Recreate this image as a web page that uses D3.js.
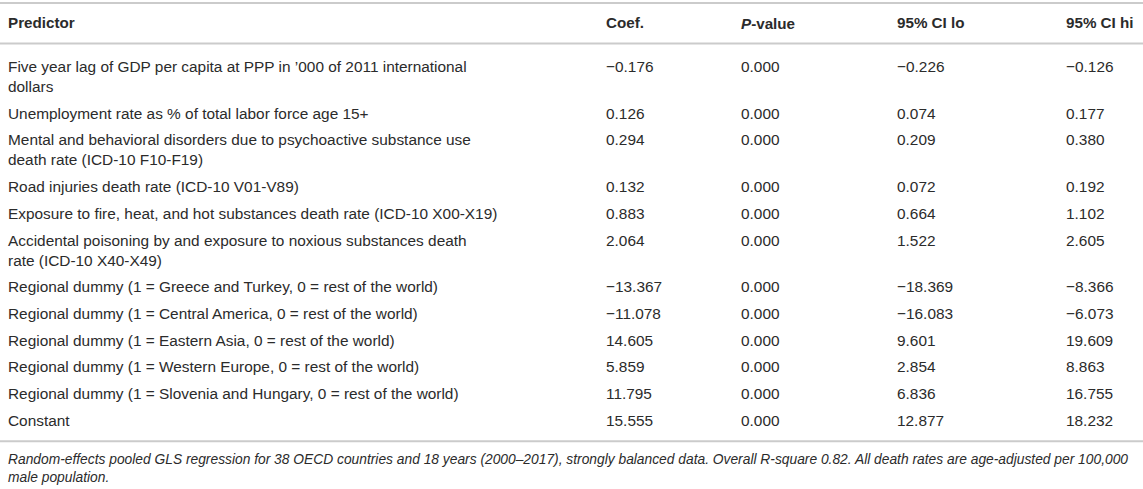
<!DOCTYPE html>
<html>
<head>
<meta charset="utf-8">
<script src="https://cdn.jsdelivr.net/npm/d3@7"></script>
<style>
  html, body { margin: 0; padding: 0; background: #fff; }
  svg { display: block; }
  text { font-family: "Liberation Sans", Arial, Helvetica, sans-serif; fill: #2b2b2b; }
</style>
</head>
<body>
<svg id="chart" width="1143" height="489"></svg>
<script>
// ---- data ----
const headers = ["Predictor", "Coef.", "P-value", "95% CI lo", "95% CI hi"];
const predictors = [
  ["Five year lag of GDP per capita at PPP in \u2019000 of 2011 international", "dollars"],
  ["Unemployment rate as % of total labor force age 15+"],
  ["Mental and behavioral disorders due to psychoactive substance use", "death rate (ICD-10 F10-F19)"],
  ["Road injuries death rate (ICD-10 V01-V89)"],
  ["Exposure to fire, heat, and hot substances death rate (ICD-10 X00-X19)"],
  ["Accidental poisoning by and exposure to noxious substances death", "rate (ICD-10 X40-X49)"],
  ["Regional dummy (1 = Greece and Turkey, 0 = rest of the world)"],
  ["Regional dummy (1 = Central America, 0 = rest of the world)"],
  ["Regional dummy (1 = Eastern Asia, 0 = rest of the world)"],
  ["Regional dummy (1 = Western Europe, 0 = rest of the world)"],
  ["Regional dummy (1 = Slovenia and Hungary, 0 = rest of the world)"],
  ["Constant"]
];
const coef   = [-0.176, 0.126, 0.294, 0.132, 0.883, 2.064, -13.367, -11.078, 14.605, 5.859, 11.795, 15.555];
const pValue = [0.000, 0.000, 0.000, 0.000, 0.000, 0.000, 0.000, 0.000, 0.000, 0.000, 0.000, 0.000];
const ciLo   = [-0.226, 0.074, 0.209, 0.072, 0.664, 1.522, -18.369, -16.083, 9.601, 2.854, 6.836, 12.877];
const ciHi   = [-0.126, 0.177, 0.380, 0.192, 1.102, 2.605, -8.366, -6.073, 19.609, 8.863, 16.755, 18.232];
const footnote = [
  "Random-effects pooled GLS regression for 38 OECD countries and 18 years (2000\u20132017), strongly balanced data. Overall R-square 0.82. All death rates are age-adjusted per 100,000",
  "male population."
];

// ---- layout ----
const W = 1143;
const colX = [8, 606, 741, 897, 1066];
const fontSize = 15.4;
const headFontSize = 15.2;
const footFontSize = 13.8;
const lineH = 20;
const rowStep = 26.7;
const topLineY = 3, headerY = 22.5, headerLineY = 43.5;
const firstRowY = 66.5;
const lineColor = "#cbcbcb";

const fmt = v => {
  const s = d3.format(".3f")(Math.abs(v));
  return (v < 0 ? "\u2212" : "") + s;
};

const svg = d3.select("#chart");

// compute row y positions
const rowYs = [];
let y = firstRowY;
predictors.forEach((p, i) => {
  rowYs.push(y);
  y += rowStep + (p.length - 1) * lineH;
});
const lastRowY = rowYs[rowYs.length - 1];
const bottomLineY = lastRowY + 21;

// rules
[topLineY, headerLineY, bottomLineY].forEach(ly => {
  svg.append("line")
    .attr("x1", 0).attr("x2", W)
    .attr("y1", ly).attr("y2", ly)
    .attr("stroke", lineColor).attr("stroke-width", 2);
});

// header
const hdr = svg.append("g").attr("font-weight", "bold").attr("font-size", headFontSize);
headers.forEach((h, i) => {
  const t = hdr.append("text")
    .attr("x", colX[i]).attr("y", headerY)
    .attr("dominant-baseline", "central");
  if (h === "P-value") {
    t.append("tspan").attr("font-style", "italic").text("P");
    t.append("tspan").text("-value");
  } else {
    t.text(h);
  }
});

// body rows
const body = svg.append("g").attr("font-size", fontSize);
const rows = body.selectAll("g.row")
  .data(predictors.map((p, i) => ({
    lines: p, vals: [coef[i], pValue[i], ciLo[i], ciHi[i]], y: rowYs[i]
  })))
  .join("g").attr("class", "row")
  .attr("transform", d => `translate(0,${d.y})`);

rows.each(function(d) {
  const g = d3.select(this);
  g.selectAll("text.pred")
    .data(d.lines)
    .join("text").attr("class", "pred")
    .attr("x", colX[0])
    .attr("y", (l, j) => j * lineH)
    .attr("dominant-baseline", "central")
    .text(l => l);
  g.selectAll("text.val")
    .data(d.vals)
    .join("text").attr("class", "val")
    .attr("x", (v, j) => colX[j + 1])
    .attr("y", 0)
    .attr("dominant-baseline", "central")
    .text(v => fmt(v));
});

// footnote
svg.append("g").attr("font-size", footFontSize).attr("font-style", "italic")
  .selectAll("text").data(footnote).join("text")
  .attr("x", colX[0])
  .attr("y", (l, j) => bottomLineY + 18.5 + j * 18)
  .attr("dominant-baseline", "central")
  .text(l => l);
</script>
</body>
</html>
